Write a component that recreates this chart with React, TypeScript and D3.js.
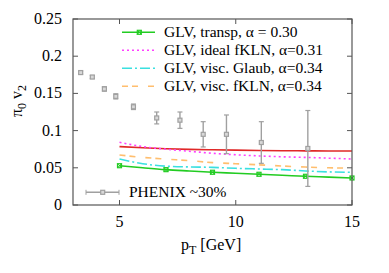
import React, { useEffect, useRef } from "react";
import * as d3 from "d3";

// PHENIX pi0 v2, 30% centrality
const phenixPt = [3.33, 3.83, 4.35, 4.84, 5.6, 6.6, 7.6, 8.6, 9.6, 11.1, 13.1];
const phenixV2 = [0.178, 0.172, 0.156, 0.146, 0.132, 0.117, 0.114, 0.095, 0.095, 0.084, 0.076];
const phenixErr = [0.002, 0.002, 0.003, 0.0035, 0.0037, 0.008, 0.011, 0.017, 0.026, 0.028, 0.051];

// GLV curves
const curvePt = [5, 6, 7, 8, 9, 10, 11, 12, 13, 14, 15];
const transpV2 = [0.0528, 0.05, 0.0475, 0.0457, 0.044, 0.0427, 0.0413, 0.04, 0.0386, 0.0375, 0.0363];
const redV2 = [0.0785, 0.077, 0.0757, 0.0748, 0.0742, 0.0737, 0.0733, 0.073, 0.0728, 0.0726, 0.0725];
const idealV2 = [0.0843, 0.0785, 0.075, 0.0722, 0.0695, 0.0675, 0.066, 0.0648, 0.064, 0.063, 0.0618];
const viscGlaubV2 = [0.0618, 0.0555, 0.0522, 0.0512, 0.0506, 0.0493, 0.0484, 0.0475, 0.0458, 0.0445, 0.0439];
const viscKlnV2 = [0.0672, 0.064, 0.0617, 0.0596, 0.057, 0.0555, 0.054, 0.0524, 0.051, 0.05, 0.0495];

const xTicks = [5, 10, 15];
const yTicks = [0, 0.05, 0.1, 0.15, 0.2, 0.25];
const yTickLabels = ["0", "0.05", "0.1", "0.15", "0.2", "0.25"];

const legendLabels = [
  "GLV, transp, \u03b1 = 0.30",
  "GLV, ideal fKLN, \u03b1=0.31",
  "GLV, visc. Glaub, \u03b1=0.34",
  "GLV, visc. fKLN, \u03b1=0.34",
];

const font = "'Liberation Serif', 'DejaVu Serif', serif";

export default function App() {
  const ref = useRef<SVGSVGElement>(null);

  useEffect(() => {
    const svg = d3.select(ref.current);
    svg.selectAll("*").remove();

    const margin = { top: 19, right: 37, bottom: 68, left: 73 };
    const W = 389, H = 273;
    const w = W - margin.left - margin.right;
    const h = H - margin.top - margin.bottom;

    const x = d3.scaleLinear().domain([3, 15]).range([margin.left, margin.left + w]);
    const y = d3.scaleLinear().domain([0, 0.25]).range([margin.top + h, margin.top]);

    const frame = "#555";

    // ticks (inward) on all sides
    yTicks.forEach((t, i) => {
      svg.append("line").attr("x1", x(3)).attr("x2", x(3) + 5).attr("y1", y(t)).attr("y2", y(t)).attr("stroke", frame);
      svg.append("line").attr("x1", x(15)).attr("x2", x(15) - 5).attr("y1", y(t)).attr("y2", y(t)).attr("stroke", frame);
      svg
        .append("text")
        .attr("x", x(3) - 11)
        .attr("y", y(t) + 5)
        .attr("text-anchor", "end")
        .attr("font-family", font)
        .attr("font-size", 16)
        .text(yTickLabels[i]);
    });
    xTicks.forEach((t) => {
      svg.append("line").attr("x1", x(t)).attr("x2", x(t)).attr("y1", y(0)).attr("y2", y(0) - 5).attr("stroke", frame);
      svg.append("line").attr("x1", x(t)).attr("x2", x(t)).attr("y1", y(0.25)).attr("y2", y(0.25) + 5).attr("stroke", frame);
      svg
        .append("text")
        .attr("x", x(t))
        .attr("y", y(0) + 22)
        .attr("text-anchor", "middle")
        .attr("font-family", font)
        .attr("font-size", 16)
        .text(t);
    });

    // curves
    const line = d3
      .line<number>()
      .x((d, i) => x(curvePt[i]))
      .y((d) => y(d))
      .curve(d3.curveMonotoneX);

    const series = [
      { v: redV2, color: "#e02828", dash: null },
      { v: idealV2, color: "#ff40ff", dash: "2,3" },
      { v: viscKlnV2, color: "#ffbe6e", dash: "6,4,6,10" },
      { v: viscGlaubV2, color: "#3ae0e0", dash: "10,3,2,3" },
      { v: transpV2, color: "#22cc22", dash: null },
    ];
    series.forEach((s) => {
      svg
        .append("path")
        .attr("d", line(s.v))
        .attr("fill", "none")
        .attr("stroke", s.color)
        .attr("stroke-width", 1.6)
        .attr("stroke-dasharray", s.dash);
    });

    const greenMarker = (cx: number, cy: number) => {
      svg.append("rect").attr("x", cx - 2).attr("y", cy - 2).attr("width", 4).attr("height", 4).attr("fill", "none").attr("stroke", "#22cc22").attr("stroke-width", 1.2);
      svg.append("path").attr("d", `M${cx - 2},${cy - 2}L${cx + 2},${cy + 2}M${cx - 2},${cy + 2}L${cx + 2},${cy - 2}`).attr("stroke", "#22cc22").attr("stroke-width", 1);
    };
    transpV2.forEach((v, i) => {
      if (i % 2 === 0) greenMarker(x(curvePt[i]), y(v));
    });

    // PHENIX data
    const grey = "#a0a0a0";
    const pointMarker = (cx: number, cy: number) => {
      svg.append("rect").attr("x", cx - 2).attr("y", cy - 2).attr("width", 4).attr("height", 4).attr("fill", "#d8d8d8").attr("stroke", grey).attr("stroke-width", 1.2);
    };
    phenixPt.forEach((p, i) => {
      const cx = x(p);
      const top = y(phenixV2[i] + phenixErr[i]);
      const bot = y(phenixV2[i] - phenixErr[i]);
      svg.append("line").attr("x1", cx).attr("x2", cx).attr("y1", top).attr("y2", bot).attr("stroke", grey).attr("stroke-width", 1.4);
      svg.append("line").attr("x1", cx - 2.5).attr("x2", cx + 2.5).attr("y1", top).attr("y2", top).attr("stroke", grey).attr("stroke-width", 1.2);
      svg.append("line").attr("x1", cx - 2.5).attr("x2", cx + 2.5).attr("y1", bot).attr("y2", bot).attr("stroke", grey).attr("stroke-width", 1.2);
      pointMarker(cx, y(phenixV2[i]));
    });

    // legend (top right)
    const legendSeries = [series[4], series[1], series[3], series[2]];
    legendSeries.forEach((s, i) => {
      const ly = 32.3 + i * 18;
      svg
        .append("line")
        .attr("x1", 122)
        .attr("x2", 155)
        .attr("y1", ly)
        .attr("y2", ly)
        .attr("stroke", s.color)
        .attr("stroke-width", 1.6)
        .attr("stroke-dasharray", s.dash);
      if (i === 0) greenMarker(139.3, ly);
      svg
        .append("text")
        .attr("x", 164)
        .attr("y", ly + 5)
        .attr("font-family", font)
        .attr("font-size", 15.5)
        .text(legendLabels[i]);
    });

    // PHENIX legend (bottom left)
    const py = 192.3;
    svg.append("line").attr("x1", 86).attr("x2", 119).attr("y1", py).attr("y2", py).attr("stroke", grey).attr("stroke-width", 1.4);
    svg.append("line").attr("x1", 86).attr("x2", 86).attr("y1", py - 2.5).attr("y2", py + 2.5).attr("stroke", grey);
    svg.append("line").attr("x1", 119).attr("x2", 119).attr("y1", py - 2.5).attr("y2", py + 2.5).attr("stroke", grey);
    pointMarker(102.7, py);
    svg
      .append("text")
      .attr("x", 129)
      .attr("y", py + 5)
      .attr("font-family", font)
      .attr("font-size", 15.5)
      .text("PHENIX ~30%");

    // frame
    svg
      .append("rect")
      .attr("x", x(3))
      .attr("y", y(0.25))
      .attr("width", w)
      .attr("height", h)
      .attr("fill", "none")
      .attr("stroke", frame)
      .attr("stroke-width", 1.2);

    // axis titles
    const xt = svg.append("text").attr("x", 181).attr("y", 250).attr("font-family", font).attr("font-size", 16);
    xt.append("tspan").text("p");
    xt.append("tspan").attr("dy", 4).attr("font-size", 12).text("T");
    xt.append("tspan").attr("dy", -4).text(" [GeV]");

    const yt = svg
      .append("text")
      .attr("transform", `translate(22,101) rotate(-90)`)
      .attr("text-anchor", "middle")
      .attr("font-family", font)
      .attr("font-size", 16);
    yt.append("tspan").text("\u03c0");
    yt.append("tspan").attr("dy", 4).attr("font-size", 12).text("0");
    yt.append("tspan").attr("dy", -4).text(" v");
    yt.append("tspan").attr("dy", 4).attr("font-size", 12).text("2");
  }, []);

  return <svg ref={ref} width={389} height={273} style={{ position: "absolute", left: 0, top: 0 }} />;
}
